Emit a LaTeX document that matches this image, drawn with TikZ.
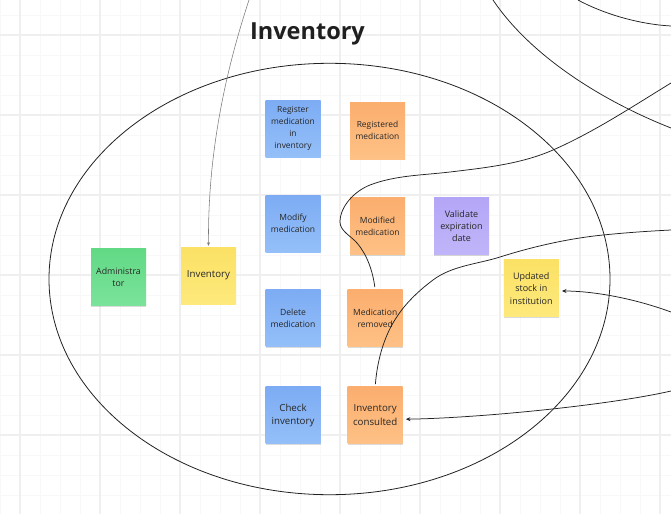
\documentclass[tikz,border=0pt]{standalone}
\usepackage{fontspec}
\setmainfont{Open Sans}
\usetikzlibrary{arrows.meta,shadows,shapes.geometric}
\definecolor{gridmajor}{HTML}{EFEFEF}
\definecolor{gridminor}{HTML}{F8F8F8}
\definecolor{inktext}{HTML}{262626}
\definecolor{linecol}{HTML}{222222}
\definecolor{arrowgray}{HTML}{7A7A7A}
\definecolor{blueT}{HTML}{7DACF4}
\definecolor{blueB}{HTML}{94BFF8}
\definecolor{orangeT}{HTML}{FBAE6E}
\definecolor{orangeB}{HTML}{FEC186}
\definecolor{greenT}{HTML}{62D985}
\definecolor{greenB}{HTML}{7AE39B}
\definecolor{yellowT}{HTML}{FBE165}
\definecolor{yellowB}{HTML}{FDE97C}
\definecolor{purpleT}{HTML}{B4A6F6}
\definecolor{purpleB}{HTML}{C0B5F9}
\tikzset{
  note/.style={minimum width=55pt, minimum height=57pt, inner sep=0pt, align=center,
    text=inktext, drop shadow={shadow xshift=0.4pt, shadow yshift=-1.3pt, opacity=0.14, fill=black}},
  bluenote/.style={note, top color=blueT, bottom color=blueB},
  orangenote/.style={note, top color=orangeT, bottom color=orangeB},
  greennote/.style={note, top color=greenT, bottom color=greenB},
  yellownote/.style={note, top color=yellowT, bottom color=yellowB},
  purplenote/.style={note, top color=purpleT, bottom color=purpleB},
  fs/.style 2 args={font=\fontsize{#1}{#2}\selectfont},
  conn/.style={draw=linecol, line width=0.75pt},
  tipped/.style={-{Stealth[length=4.5pt,width=4pt]}},
  minorline/.style={draw=gridminor, line width=0.8pt},
  majorline/.style={draw=gridmajor, line width=1.1pt},
}
\begin{document}
\begin{tikzpicture}[x=1pt,y=-1pt]
\useasboundingbox (0,0) rectangle (671,514);
\fill[white] (0,0) rectangle (671,514);
% grid
\foreach \gx in {0,20,...,660} { \draw[minorline] (\gx,0) -- (\gx,514); }
\foreach \gy in {15,35,...,505} { \draw[minorline] (0,\gy) -- (671,\gy); }
\foreach \gx in {20,100,...,660} { \draw[majorline] (\gx,0) -- (\gx,514); }
\foreach \gy in {35,115,...,435} { \draw[majorline] (0,\gy) -- (671,\gy); }

% boundary ellipse
\node[draw=linecol, line width=0.8pt, ellipse, minimum width=561pt, minimum height=431.4pt, inner sep=0pt] (boundary) at (329.5,279) {};

% title
\node[anchor=base, text=black!88, font=\fontsize{23.5}{28}\selectfont\bfseries] (title) at (307.5,39.3) {Inventory};

% stickies
\node[bluenote, fs={8.4}{11.9}] (reg) at (293,128.5) {Register\\medication\\in\\inventory};
\node[orangenote, fs={8.4}{11.7}] (regd) at (377.5,130.5) {Registered\\medication};
\node[bluenote, fs={8.5}{11.7}] (mod) at (293,223.5) {Modify\\medication};
\node[orangenote, fs={8.5}{12}] (modd) at (377.5,226.3) {Modified\\medication};
\node[purplenote, fs={9}{12.3}] (val) at (461.5,226.3) {Validate\\expiration\\date};
\node[greennote, fs={8.8}{11.8}] (admin) at (118.5,277.3) {Administra\\tor};
\node[yellownote, fs={9.7}{12}] (inv) at (208.5,275.5) {Inventory};
\node[bluenote, fs={8.6}{11.8}] (del) at (293,318.3) {Delete\\medication};
\node[orangenote, fs={8.5}{12}] (rem) at (375.2,318.3) {Medication\\removed};
\node[yellownote, fs={9}{12.4}] (upd) at (531.3,288.3) {Updated\\stock in\\institution};
\node[bluenote, fs={9.7}{13.3}] (chk) at (293,415.2) {Check\\inventory};
\node[orangenote, fs={9.7}{13.3}] (con) at (375.2,415.2) {Inventory\\consulted};

% free ends
\coordinate (invtop) at (249,0);
\coordinate (cEnd) at (671,83);
\coordinate (dEnd) at (671,230);
\coordinate (eStart) at (671,391);
\coordinate (fStart) at (671,312);
\coordinate (aStart) at (493,0);
\coordinate (aEnd) at (671,128);
\coordinate (bStart) at (578,0);
\coordinate (bEnd) at (671,26);

% connectors
\draw[draw=arrowgray, line width=0.55pt, -{Stealth[length=3.5pt,width=3pt]}, shorten >=1pt]
  (invtop) .. controls (216,100) and (208,180) .. (inv.north);

\draw[conn, shorten <=2.5pt] (rem.north) .. controls (372.6,271) and (367.4,255.2) .. (357,243)
  .. controls (351.2,236.2) and (340,231) .. (340,222)
  .. controls (340,206) and (355.1,190.8) .. (370,185)
  .. controls (395.1,175.3) and (423,175.2) .. (450,172)
  .. controls (485,167.8) and (521.2,164) .. (553,150)
  .. controls (594,132) and (632.75,106.4) .. (cEnd);

\draw[conn, shorten <=2.5pt] (con.north) .. controls (377.1,363) and (382.5,341.3) .. (393,323)
  .. controls (403,305.6) and (417,292) .. (433,280)
  .. controls (452.2,265.6) and (477.2,264.2) .. (500,257)
  .. controls (533.25,246.5) and (568.35,238.5) .. (603,235)
  .. controls (625.8,232.7) and (648,231.15) .. (dEnd);

\draw[conn, tipped] (eStart) .. controls (610,405) and (480,418) .. ([xshift=3pt,yshift=-4pt]con.east);
\draw[conn, tipped] (fStart) .. controls (630,297) and (590,291) .. ([xshift=3pt,yshift=-2.7pt]upd.east);

\draw[conn] (aStart) .. controls (530,55) and (600,100) .. (aEnd);
\draw[conn] (bStart) .. controls (600,12) and (635,24) .. (bEnd);
\end{tikzpicture}
\end{document}
